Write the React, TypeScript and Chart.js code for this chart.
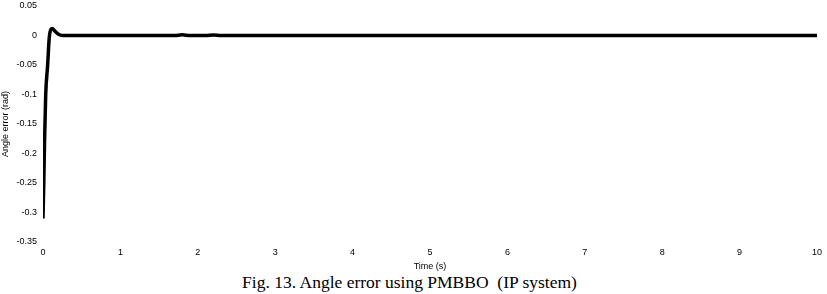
import React, { useEffect, useRef } from "react";
import { Chart, registerables } from "chart.js";

Chart.register(...registerables);

const timeS = [0, 0.01, 0.02, 0.035, 0.06, 0.08, 0.1, 0.12, 0.15, 0.2, 0.25, 0.5, 1.7, 1.8, 1.9, 2.1, 2.2, 2.3, 6.4, 10];
const angleError = [-0.31, -0.25, -0.18, -0.1, -0.05, -0.005, 0.01, 0.012, 0.008, 0.002, 0, 0, 0, 0.0012, 0, 0, 0.001, 0, 0, 0];
const yTicks = ["0.05", "0", "-0.05", "-0.1", "-0.15", "-0.2", "-0.25", "-0.3", "-0.35"];
const xTicks = ["0", "1", "2", "3", "4", "5", "6", "7", "8", "9", "10"];

export default function App() {
  const ref = useRef<HTMLCanvasElement>(null);
  useEffect(() => {
    document.body.style.margin = "0";
    const ctx = ref.current!;
    const tickFont = { family: "Liberation Sans, Arial, sans-serif", size: 9 };
    const chart = new Chart(ctx, {
      type: "line",
      data: {
        datasets: [
          {
            data: timeS.map((t, i) => ({ x: t, y: angleError[i] })),
            borderColor: "#000",
            borderWidth: 3.5,
            pointRadius: 0,
            tension: 0.3,
            cubicInterpolationMode: "monotone",
            fill: false,
          },
        ],
      },
      options: {
        animation: false,
        responsive: false,
        maintainAspectRatio: false,
        layout: { padding: { top: 6, right: 10, left: 0, bottom: 0 } },
        plugins: { legend: { display: false }, tooltip: { enabled: false } },
        scales: {
          x: {
            type: "linear",
            min: 0,
            max: 10,
            afterFit: (s: any) => { s.height = 30; s.paddingLeft = 0; s.paddingRight = 0; },
            grid: { display: false, drawTicks: false },
            border: { display: false },
            ticks: {
              stepSize: 1,
              color: "#000",
              font: tickFont,
              padding: 5,
              maxRotation: 0,
              callback: (v: any) => xTicks[Math.round(Number(v))] ?? "",
            },
            title: { display: true, text: "Time (s)", color: "#000", font: tickFont, padding: { top: 3, bottom: 0 } },
          },
          y: {
            type: "linear",
            min: -0.35,
            max: 0.05,
            afterFit: (s: any) => { s.width = 43; s.paddingTop = 0; s.paddingBottom = 0; },
            grid: { display: false, drawTicks: false },
            border: { display: false },
            ticks: {
              stepSize: 0.05,
              color: "#000",
              font: tickFont,
              padding: 6,
              callback: (v: any) => {
                const idx = Math.round((0.05 - Number(v)) / 0.05);
                return yTicks[idx] ?? "";
              },
            },
            title: { display: true, text: "Angle error (rad)", color: "#000", font: tickFont, padding: { top: 0, bottom: 0 } },
          },
        },
      },
    });
    return () => chart.destroy();
  }, []);
  return (
    <div style={{ position: "absolute", left: 0, top: 0, width: 827, height: 294, background: "#fff" }}>
      <canvas ref={ref} width={827} height={272} style={{ display: "block", width: 827, height: 272 }} />
      <div
        style={{
          height: 22,
          lineHeight: "20px",
          textAlign: "center",
          fontFamily: "Liberation Serif, Times New Roman, serif",
          fontSize: 17.5,
          color: "#000",
          paddingRight: 8,
          whiteSpace: "pre",
        }}
      >
        {"Fig. 13. Angle error using PMBBO  (IP system)"}
      </div>
    </div>
  );
}
